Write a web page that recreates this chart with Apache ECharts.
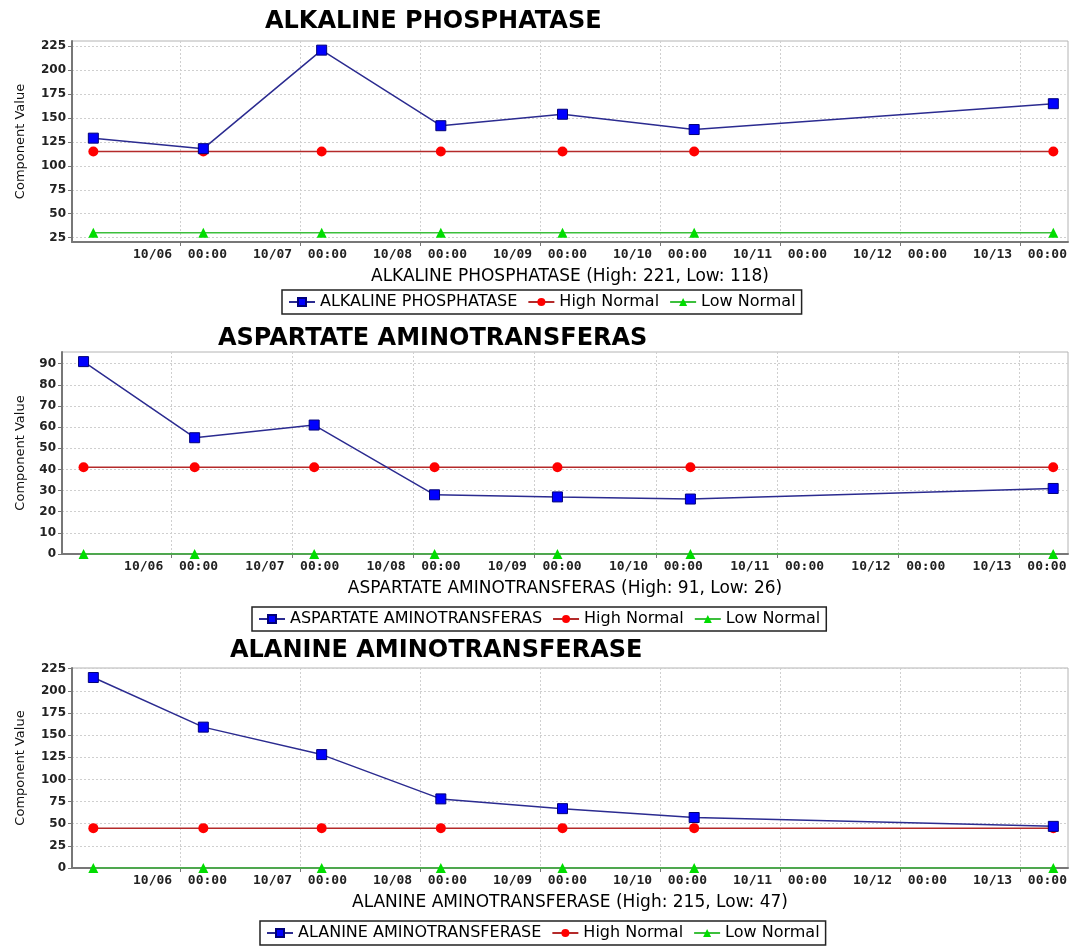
<!DOCTYPE html>
<html>
<head>
<meta charset="utf-8">
<title>Liver panel trends</title>
<script src="https://cdn.jsdelivr.net/npm/echarts@6/dist/echarts.min.js"></script>
<style>
  html, body { margin: 0; padding: 0; background: #fff; }
  .chart { position: absolute; left: 0; width: 1073px; }
</style>
</head>
<body>
<div id="alp" class="chart" style="top:0;height:320px"></div>
<div id="ast" class="chart" style="top:320px;height:315px"></div>
<div id="alt" class="chart" style="top:635px;height:312px"></div>
<script>
// Sample draw times, shared by all three panels (month/day hh:mm)
const drawTimes = ['10/05 06:40', '10/06 04:40', '10/07 04:20', '10/08 04:10', '10/09 04:30', '10/10 06:50', '10/13 06:40']

// Day ticks on the time axis
const dayTicks = ['10/06', '10/07', '10/08', '10/09', '10/10', '10/11', '10/12', '10/13']

// Alkaline phosphatase
const alpValues = [129, 118, 221, 142, 154, 138, 165]
const alpHigh = [115, 115, 115, 115, 115, 115, 115]
const alpLow = [30, 30, 30, 30, 30, 30, 30]
const alpTicks = [25, 50, 75, 100, 125, 150, 175, 200, 225]
const alpRange = [20.45, 230.55]

// Aspartate aminotransferase
const astValues = [91, 55, 61, 28, 27, 26, 31]
const astHigh = [41, 41, 41, 41, 41, 41, 41]
const astLow = [0, 0, 0, 0, 0, 0, 0]
const astTicks = [0, 10, 20, 30, 40, 50, 60, 70, 80, 90]
const astRange = [0, 95.55]

// Alanine aminotransferase
const altValues = [215, 159, 128, 78, 67, 57, 47]
const altHigh = [45, 45, 45, 45, 45, 45, 45]
const altLow = [0, 0, 0, 0, 0, 0, 0]
const altTicks = [0, 25, 50, 75, 100, 125, 150, 175, 200, 225]
const altRange = [0, 225.75]

// hours since 10/05 00:00
function toHours(stamp) {
    const [date, time] = stamp.split(' ')
    const day = parseInt(date.split('/')[1], 10)
    const [h, m] = (time || '00:00').split(':').map(Number)
    return (day - 5) * 24 + h + m / 60
}

const tickHours = dayTicks.map(d => toHours(d))
const X_MIN = toHours('10/05 02:24')
const X_MAX = toHours('10/13 09:36')

function pairs(values) {
    return drawTimes.map((t, i) => [toHours(t), values[i]])
}

function buildOption(p) {
    return {
        animation: false,
        title: {
            text: p.title,
            left: p.titleLeft,
            top: p.titleTop,
            padding: 0,
            textStyle: { fontFamily: 'DejaVu Sans', fontWeight: 'bold', fontSize: 24, color: '#000' }
        },
        legend: {
            left: p.legendLeft,
            top: p.legendTop,
            data: [p.name, 'High Normal', 'Low Normal'],
            borderColor: '#222',
            borderWidth: 1.5,
            padding: [4, 6],
            itemGap: 10,
            itemWidth: 26,
            itemHeight: 10,
            textStyle: { fontFamily: 'DejaVu Sans', fontSize: 16, color: '#000' }
        },
        grid: {
            left: p.gridLeft,
            right: 5,
            top: p.gridTop,
            height: p.gridHeight,
            show: true,
            borderColor: '#b4b4b4',
            borderWidth: 1
        },
        xAxis: {
            type: 'value',
            min: X_MIN,
            max: X_MAX,
            name: p.axisTitle,
            nameLocation: 'middle',
            nameGap: 26,
            nameTextStyle: { fontFamily: 'DejaVu Sans', fontSize: 17, color: '#000' },
            axisLine: { show: true, onZero: false, lineStyle: { color: '#777', width: 2 } },
            axisTick: { customValues: tickHours, length: 4, lineStyle: { color: '#777' } },
            axisLabel: {
                customValues: tickHours,
                formatter: v => dayTicks[tickHours.indexOf(v)] + '  00:00',
                fontFamily: 'DejaVu Sans Mono',
                fontSize: 13,
                fontWeight: 'bold',
                color: '#222',
                margin: 6
            },
            splitLine: { show: true, lineStyle: { color: '#cfcfcf', type: [2, 2] } }
        },
        yAxis: {
            type: 'value',
            min: p.range[0],
            max: p.range[1],
            name: 'Component Value',
            nameLocation: 'middle',
            nameGap: p.yNameGap,
            nameTextStyle: { fontFamily: 'DejaVu Sans', fontSize: 13, color: '#111' },
            axisLine: { show: true, onZero: false, lineStyle: { color: '#777', width: 2 } },
            axisTick: { show: true, customValues: p.ticks, length: 4, lineStyle: { color: '#777' } },
            axisLabel: {
                customValues: p.ticks,
                fontFamily: 'DejaVu Sans',
                fontSize: 12,
                fontWeight: 'bold',
                color: '#222',
                margin: 6
            },
            splitLine: { show: true, lineStyle: { color: '#cfcfcf', type: [2, 2] } }
        },
        series: [
            {
                name: 'High Normal',
                type: 'line',
                data: pairs(p.high),
                symbol: 'circle',
                symbolSize: 10,
                itemStyle: { color: '#ff0000' },
                lineStyle: { color: '#b42a2a', width: 1.5 },
                z: 2
            },
            {
                name: 'Low Normal',
                type: 'line',
                data: pairs(p.low),
                symbol: 'triangle',
                symbolSize: 10,
                itemStyle: { color: '#00dd00' },
                lineStyle: { color: '#3cbf3c', width: 1.5 },
                z: 2
            },
            {
                name: p.name,
                type: 'line',
                data: pairs(p.values),
                symbol: 'rect',
                symbolSize: 10,
                itemStyle: { color: '#0000ff', borderColor: '#00007a', borderWidth: 1 },
                lineStyle: { color: '#2b2b90', width: 1.5 },
                z: 3
            }
        ]
    }
}

const panels = [
    {
        el: 'alp', name: 'ALKALINE PHOSPHATASE', title: 'ALKALINE PHOSPHATASE',
        axisTitle: 'ALKALINE PHOSPHATASE (High: 221, Low: 118)',
        values: alpValues, high: alpHigh, low: alpLow, ticks: alpTicks, range: alpRange,
        titleLeft: 265, titleTop: 10, gridLeft: 72, gridTop: 41, gridHeight: 201,
        legendLeft: 282, legendTop: 290, yNameGap: 45
    },
    {
        el: 'ast', name: 'ASPARTATE AMINOTRANSFERAS', title: 'ASPARTATE AMINOTRANSFERAS',
        axisTitle: 'ASPARTATE AMINOTRANSFERAS (High: 91, Low: 26)',
        values: astValues, high: astHigh, low: astLow, ticks: astTicks, range: astRange,
        titleLeft: 218, titleTop: 7, gridLeft: 62, gridTop: 32, gridHeight: 202,
        legendLeft: 252, legendTop: 287, yNameGap: 35
    },
    {
        el: 'alt', name: 'ALANINE AMINOTRANSFERASE', title: 'ALANINE AMINOTRANSFERASE',
        axisTitle: 'ALANINE AMINOTRANSFERASE (High: 215, Low: 47)',
        values: altValues, high: altHigh, low: altLow, ticks: altTicks, range: altRange,
        titleLeft: 230, titleTop: 4, gridLeft: 72, gridTop: 33, gridHeight: 200,
        legendLeft: 260, legendTop: 286, yNameGap: 45
    }
]

panels.forEach(p => {
    const chart = echarts.init(document.getElementById(p.el))
    chart.setOption(buildOption(p))
})
</script>
</body>
</html>
